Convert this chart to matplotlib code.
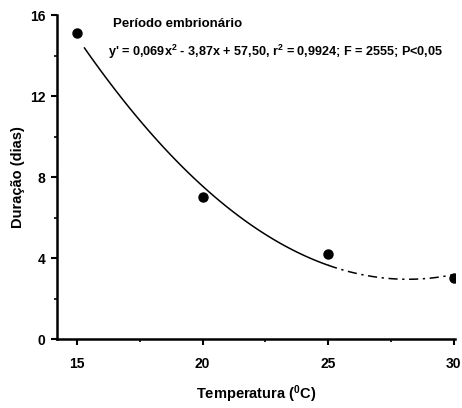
import numpy as np
import matplotlib
matplotlib.use("Agg")
import matplotlib.pyplot as plt
from matplotlib.ticker import MultipleLocator

# Observed values
temperatura = [15, 20, 25, 30]
duracao = [15.1, 7.0, 4.2, 3.0]

titulo = "Período embrionário"
equacao = "y' = 0,069x$^2$ - 3,87x + 57,50, r$^2$ = 0,9924; F = 2555; P<0,05"

plt.rcParams['font.family'] = ['Liberation Sans', 'DejaVu Sans']
plt.rcParams['font.weight'] = 'bold'
plt.rcParams['axes.labelweight'] = 'bold'
plt.rcParams['mathtext.fontset'] = 'custom'
plt.rcParams['mathtext.rm'] = 'Liberation Sans:bold'
plt.rcParams['mathtext.default'] = 'rm'

# quadratic regression on the observed points
coef = np.polyfit(temperatura, duracao, 2)

fig = plt.figure(figsize=(4.62, 4.08), dpi=100)
ax = fig.add_axes([0.123, 0.169, 0.862, 0.794])

# fitted curve: solid first part, broken afterwards
xs1 = np.linspace(15.3, 25, 100)
xs2 = np.linspace(25, 30, 60)
ax.plot(xs1, np.polyval(coef, xs1), color='black', lw=1.1)
ax.plot(xs2, np.polyval(coef, xs2), color='black', lw=1.1, dashes=(6, 3, 1.5, 3))

ax.plot(temperatura, duracao, 'o', color='black', markersize=6.5)

ax.set_xlim(14.2, 30.05)
ax.set_ylim(0, 16)
ax.xaxis.set_major_locator(MultipleLocator(5))
ax.xaxis.set_minor_locator(MultipleLocator(2.5))
ax.yaxis.set_major_locator(MultipleLocator(4))
ax.yaxis.set_minor_locator(MultipleLocator(2))

for s in ['top', 'right']:
    ax.spines[s].set_visible(False)
for s in ['left', 'bottom']:
    ax.spines[s].set_linewidth(1.8)

ax.tick_params(which='major', length=4, width=1.5, labelsize=10, direction='out')
ax.tick_params(which='minor', length=2, width=1.2, direction='out')
ax.tick_params(axis='x', which='major', pad=9)
ax.tick_params(axis='y', which='major', pad=4)

ax.set_xlabel("Temperatura ($^0$C)", fontsize=10.5, labelpad=9)
ax.set_ylabel("Duração (dias)", fontsize=10.5, labelpad=4)

ax.text(16.45, 15.4, titulo, fontsize=9.5)
ax.text(16.25, 14.0, equacao, fontsize=9.1)

fig.savefig("out.png", dpi=100)
